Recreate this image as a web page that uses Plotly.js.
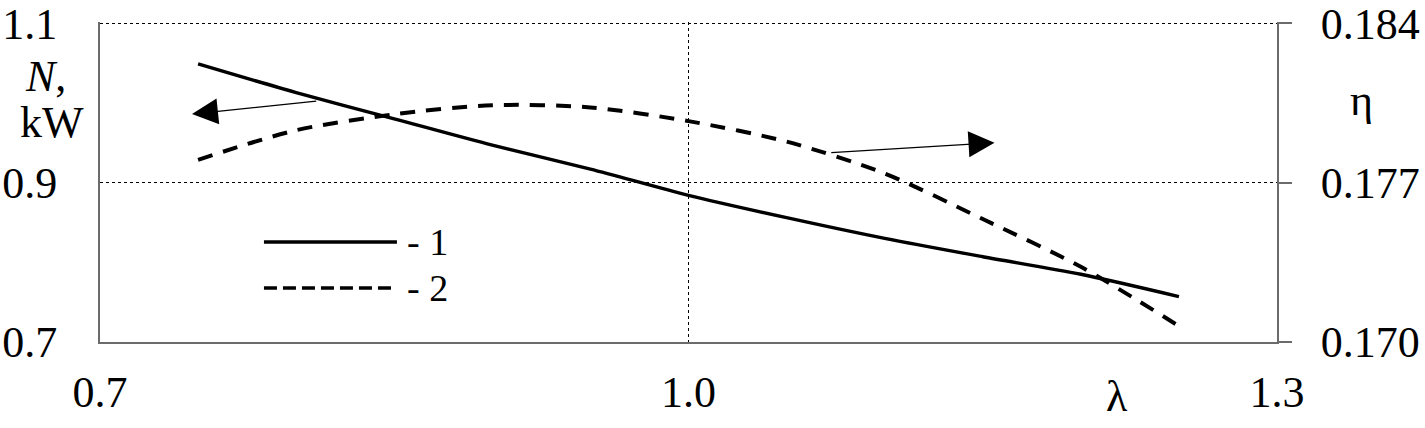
<!DOCTYPE html>
<html>
<head>
<meta charset="utf-8">
<script src="https://cdn.plot.ly/plotly-3.0.1.min.js"></script>
<style>html,body{margin:0;padding:0;background:#fff;}#chart{width:1425px;height:428px;}</style>
</head>
<body>
<div id="chart"></div>
<script>
// Data
const lambda = [0.75, 0.80, 0.85, 0.90, 0.95, 1.00, 1.05, 1.10, 1.15, 1.20, 1.25];
const powerN = [1.049, 1.013, 0.980, 0.947, 0.917, 0.884, 0.856, 0.830, 0.807, 0.785, 0.757];
const effEta = [0.1780, 0.1793, 0.1800, 0.1804, 0.1803, 0.1797, 0.1788, 0.1774, 0.1754, 0.1733, 0.1707];

const xTicks = [0.7, 1.0, 1.3];
const xTickText = ['0.7', '1.0', '1.3'];
const yTicks = [0.7, 0.9, 1.1];
const yTickText = ['0.7', '0.9', '1.1'];
const y2Ticks = [0.170, 0.177, 0.184];
const y2TickText = ['0.170', '0.177', '0.184'];
const seriesLabels = ['- 1', '- 2'];

const AXC = '#6b6b6b';
function tf(size) { return {family: 'Liberation Serif', size: size || 44, color: '#000'}; }

const traces = [
  {x: lambda, y: powerN, yaxis: 'y', mode: 'lines', name: '1',
   line: {color: '#000', width: 3.4, shape: 'spline', smoothing: 0.8}},
  {x: lambda, y: effEta, yaxis: 'y2', mode: 'lines', name: '2',
   line: {color: '#000', width: 4, dash: '15px,11px', shape: 'spline', smoothing: 0.8}}
];

const layout = {
  width: 1425, height: 428,
  margin: {l: 100, r: 148, t: 22, b: 86},
  paper_bgcolor: '#fff', plot_bgcolor: '#fff',
  showlegend: false,
  xaxis: {
    range: [0.7, 1.3], tickvals: xTicks, ticktext: xTickText,
    showgrid: true, gridcolor: '#000', gridwidth: 1, griddash: 'dot',
    showline: true, linecolor: AXC, linewidth: 2, ticks: '',
    zeroline: false, ticklabelstandoff: 10, ticklabeloverflow: 'allow',
    tickfont: tf(44)
  },
  yaxis: {
    range: [0.7, 1.1015], tickvals: yTicks, ticktext: yTickText,
    showgrid: true, gridcolor: '#000', gridwidth: 1, griddash: 'dot',
    showline: true, linecolor: AXC, linewidth: 2, ticks: '',
    zeroline: false, ticklabelstandoff: 32, ticklabeloverflow: 'allow',
    tickfont: tf(44)
  },
  yaxis2: {
    range: [0.170, 0.1840525], tickvals: y2Ticks, ticktext: y2TickText,
    overlaying: 'y', side: 'right', showgrid: false,
    showline: true, linecolor: AXC, linewidth: 2,
    ticks: 'outside', ticklen: 13, tickcolor: AXC, tickwidth: 2,
    zeroline: false, ticklabelstandoff: 20, ticklabeloverflow: 'allow',
    tickfont: tf(44)
  },
  shapes: [
    {type: 'line', xref: 'paper', yref: 'paper', x0: 0.1393, x1: 0.2523, y0: 0.3125, y1: 0.3125,
     line: {color: '#000', width: 3.4}},
    {type: 'line', xref: 'paper', yref: 'paper', x0: 0.1393, x1: 0.2523, y0: 0.16875, y1: 0.16875,
     line: {color: '#000', width: 3.4, dash: '13px,6px'}}
  ],
  annotations: [
    {xref: 'paper', yref: 'paper', x: 0.259, y: 0.3125, xanchor: 'left', yanchor: 'middle',
     text: seriesLabels[0], showarrow: false, font: tf(38)},
    {xref: 'paper', yref: 'paper', x: 0.259, y: 0.16875, xanchor: 'left', yanchor: 'middle',
     text: seriesLabels[1], showarrow: false, font: tf(38)},
    {xref: 'paper', yref: 'paper', x: -0.0467, y: 0.831, xanchor: 'center', yanchor: 'middle',
     text: '<i>N</i>,', showarrow: false, font: tf(44)},
    {xref: 'paper', yref: 'paper', x: -0.0408, y: 0.6875, xanchor: 'center', yanchor: 'middle',
     text: 'kW', showarrow: false, font: tf(44)},
    {xref: 'paper', yref: 'paper', x: 1.0714, y: 0.756, xanchor: 'center', yanchor: 'middle',
     text: 'η', showarrow: false, font: tf(44)},
    {xref: 'paper', yref: 'paper', x: 0.864, y: -0.169, xanchor: 'center', yanchor: 'middle',
     text: 'λ', showarrow: false, font: tf(44)},
    // arrow pointing to left axis (curve 1)
    {xref: 'x', yref: 'y', x: 0.7469, y: 0.986, axref: 'x', ayref: 'y', ax: 0.811, ay: 1.0025,
     text: '', showarrow: true, arrowhead: 2, arrowsize: 4, arrowwidth: 1.3, arrowcolor: '#000',
     standoff: 0, startstandoff: 0},
    // arrow pointing to right axis (curve 2)
    {xref: 'x', yref: 'y2', x: 1.156, y: 0.17875, axref: 'x', ayref: 'y2', ax: 1.072, ay: 0.17831,
     text: '', showarrow: true, arrowhead: 2, arrowsize: 4, arrowwidth: 1.3, arrowcolor: '#000',
     standoff: 0, startstandoff: 0}
  ]
};

Plotly.newPlot('chart', traces, layout, {displayModeBar: false, staticPlot: true});
</script>
</body>
</html>
